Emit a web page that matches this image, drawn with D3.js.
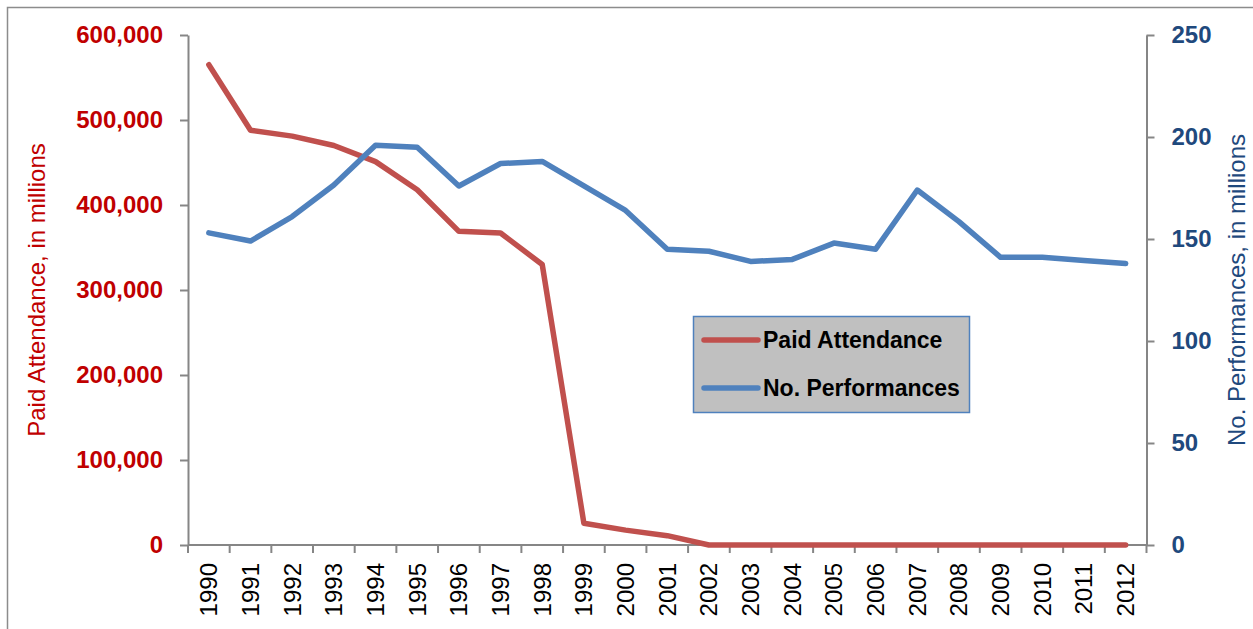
<!DOCTYPE html>
<html>
<head>
<meta charset="utf-8">
<script src="https://cdn.jsdelivr.net/npm/d3@7"></script>
<style>
  html, body { margin: 0; padding: 0; background: #fff; }
  svg { display: block; font-family: "Liberation Sans", Arial, sans-serif; }
</style>
</head>
<body>
<svg id="chart" width="1253" height="629"></svg>
<script>
// Years on the category axis
const years = ["1990","1991","1992","1993","1994","1995","1996","1997","1998","1999","2000",
               "2001","2002","2003","2004","2005","2006","2007","2008","2009","2010","2011","2012"];

// Paid attendance (left axis)
const paidAttendance = [565000, 488000, 481000, 470000, 451000, 418000, 369000, 367000, 330000,
                        25500, 17500, 11000, 0, 0, 0, 0, 0, 0, 0, 0, 0, 0, 0];

// Number of performances (right axis)
const performances = [153, 149, 161, 176.5, 196, 195, 176, 187, 188, 176, 164,
                      145, 144, 139, 140, 148, 145, 174, 158.5, 141, 141, 139.5, 138];

const leftTicks = [0, 100000, 200000, 300000, 400000, 500000, 600000];
const rightTicks = [0, 50, 100, 150, 200, 250];

const seriesNames = ["Paid Attendance", "No. Performances"];
const leftTitle = "Paid Attendance, in millions";
const rightTitle = "No. Performances, in millions";

const RED = "#C0504D", BLUE = "#4F81BD";
const RED_TEXT = "#C00000", BLUE_TEXT = "#1F497D";
const AXIS = "#868686";

const svg = d3.select("#chart");
const m = { left: 188, right: 1146.5, top: 35, bottom: 545 };

// outer frame
svg.append("rect")
  .attr("x", 7.5).attr("y", 7.5)
  .attr("width", 1260).attr("height", 640)
  .attr("fill", "none").attr("stroke", "#8c8c8c").attr("stroke-width", 1.5);

const x = d3.scaleBand().domain(years).range([m.left, m.right]).padding(0);
const yL = d3.scaleLinear().domain([0, 600000]).range([m.bottom, m.top]);
const yR = d3.scaleLinear().domain([0, 250]).range([m.bottom, m.top]);

// left axis
const gL = svg.append("g").attr("transform", `translate(${m.left},0)`)
  .call(d3.axisLeft(yL).tickValues(leftTicks).tickFormat(d3.format(",")).tickSize(8).tickSizeOuter(0).tickPadding(17));
gL.selectAll("path, line").attr("stroke", AXIS).attr("stroke-width", 2);
gL.selectAll("text").attr("fill", RED_TEXT).attr("font-size", 24).attr("font-weight", "bold")
  .attr("font-family", "'Liberation Sans', Arial, sans-serif");

// right axis
const gR = svg.append("g").attr("transform", `translate(${m.right},0)`)
  .call(d3.axisRight(yR).tickValues(rightTicks).tickSize(8).tickSizeOuter(0).tickPadding(17));
gR.selectAll("path, line").attr("stroke", AXIS).attr("stroke-width", 2);
gR.selectAll("text").attr("fill", BLUE_TEXT).attr("font-size", 24).attr("font-weight", "bold")
  .attr("font-family", "'Liberation Sans', Arial, sans-serif");

// category axis: line, boundary ticks, rotated labels
const gX = svg.append("g").attr("transform", `translate(0,${m.bottom})`);
gX.append("line").attr("x1", m.left).attr("x2", m.right).attr("y1", 0).attr("y2", 0)
  .attr("stroke", AXIS).attr("stroke-width", 2);
const bounds = years.map(d => x(d)).concat([x(years[years.length - 1]) + x.bandwidth()]);
gX.selectAll("line.tick").data(bounds).join("line").attr("class", "tick")
  .attr("x1", d => d).attr("x2", d => d).attr("y1", 0).attr("y2", 8)
  .attr("stroke", AXIS).attr("stroke-width", 2);
gX.selectAll("text.lbl").data(years).join("text").attr("class", "lbl")
  .attr("transform", d => `translate(${x(d) + x.bandwidth() / 2 + 8.5},18) rotate(-90)`)
  .attr("text-anchor", "end")
  .attr("font-size", 24).attr("fill", "#000")
  .text(d => d);

// axis titles
svg.append("text")
  .attr("transform", `translate(45,290) rotate(-90)`)
  .attr("text-anchor", "middle").attr("font-size", 24).attr("fill", RED_TEXT)
  .text(leftTitle);
svg.append("text")
  .attr("transform", `translate(1245,290) rotate(-90)`)
  .attr("text-anchor", "middle").attr("font-size", 24).attr("fill", BLUE_TEXT)
  .text(rightTitle);

// series lines
const cx = d => x(d) + x.bandwidth() / 2;
const lineL = d3.line().x((d, i) => cx(years[i])).y(d => yL(d));
const lineR = d3.line().x((d, i) => cx(years[i])).y(d => yR(d));

svg.append("path").datum(paidAttendance).attr("d", lineL)
  .attr("fill", "none").attr("stroke", RED).attr("stroke-width", 5.5)
  .attr("stroke-linejoin", "round").attr("stroke-linecap", "round");
svg.append("path").datum(performances).attr("d", lineR)
  .attr("fill", "none").attr("stroke", BLUE).attr("stroke-width", 5.5)
  .attr("stroke-linejoin", "round").attr("stroke-linecap", "round");

// legend
const lg = svg.append("g").attr("transform", "translate(693,316)");
lg.append("rect").attr("x", 0.5).attr("y", 0.5).attr("width", 276).attr("height", 96)
  .attr("fill", "#C0C0C0").attr("stroke", BLUE).attr("stroke-width", 1.5);
[RED, BLUE].forEach((c, i) => {
  const yy = 24 + i * 48;
  lg.append("line").attr("x1", 11).attr("x2", 65).attr("y1", yy).attr("y2", yy)
    .attr("stroke", c).attr("stroke-width", 5.5).attr("stroke-linecap", "round");
  lg.append("text").attr("x", 70).attr("y", yy + 8)
    .attr("font-size", 23).attr("font-weight", "bold").attr("fill", "#000")
    .text(seriesNames[i]);
});
</script>
</body>
</html>
